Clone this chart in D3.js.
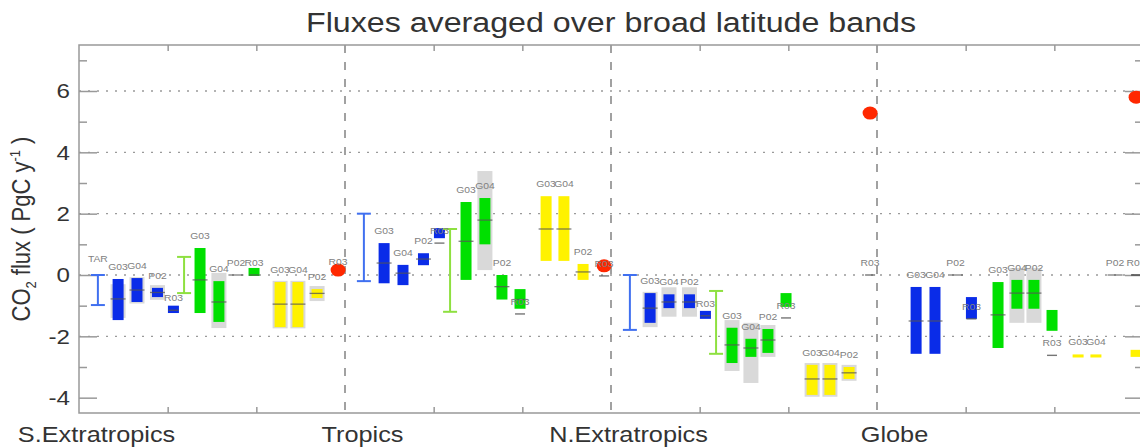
<!DOCTYPE html>
<html><head><meta charset="utf-8">
<script src="https://cdn.jsdelivr.net/npm/d3@7"></script>
<style>
html,body{margin:0;padding:0;background:#fff;}
svg{display:block;font-family:"Liberation Sans",Arial,sans-serif;}
</style>
</head><body>
<svg id="chart" width="1140" height="448"></svg>
<script>
// ---------------- DATA ----------------
const bands = ["S.Extratropics", "Tropics", "N.Extratropics", "Globe"];
const yTickValues = [-4, -2, 0, 2, 4, 6];
const yMinorValues = [-3, -1, 1, 3, 5, 7];
const gridValues = [-2, 0, 2, 4, 6];

// TAR ranges [lo, hi] per band (null = none)
const blueRange = [[-0.98, 0.0], [-0.2, 2.0], [-1.79, 0.0], null];
const greenRange = [[-0.59, 0.59], [-1.2, 1.5], [-2.57, -0.52], null];
const rangeLabels = ["TAR", "", "", ""];

const blueBoxes = [
  {band:"S.Extratropics", model:"G03", lo:-1.47, hi:-0.13, med:-0.78, gLo:-1.40, gHi:-0.30},
  {band:"S.Extratropics", model:"G04", lo:-0.88, hi:-0.10, med:-0.49, gLo:-0.93, gHi:-0.07},
  {band:"S.Extratropics", model:"P02", lo:-0.72, hi:-0.42, med:-0.57, gLo:-0.81, gHi:-0.33},
  {band:"S.Extratropics", model:"R03", lo:-1.24, hi:-1.00, ref:-1.15},
  {band:"Tropics", model:"G03", lo:-0.27, hi:1.04, med:0.39},
  {band:"Tropics", model:"G04", lo:-0.33, hi:0.33, med:0.06},
  {band:"Tropics", model:"P02", lo:0.32, hi:0.71, med:0.52},
  {band:"Tropics", model:"R03", lo:1.20, hi:1.53, ref:1.04},
  {band:"N.Extratropics", model:"G03", lo:-1.56, hi:-0.59, med:-1.08, gLo:-1.70, gHi:-0.55},
  {band:"N.Extratropics", model:"G04", lo:-1.08, hi:-0.63, med:-0.88, gLo:-1.36, gHi:-0.40},
  {band:"N.Extratropics", model:"P02", lo:-1.08, hi:-0.63, med:-0.88, gLo:-1.36, gHi:-0.40},
  {band:"N.Extratropics", model:"R03", lo:-1.43, hi:-1.17, ref:-1.33},
  {band:"Globe", model:"G03", lo:-2.57, hi:-0.39, med:-1.50},
  {band:"Globe", model:"G04", lo:-2.57, hi:-0.39, med:-1.50},
  {band:"Globe", model:"P02", lo:0, hi:0, med:0},
  {band:"Globe", model:"R03", lo:-1.43, hi:-0.72, ref:-1.43}
];

const greenBoxes = [
  {band:"S.Extratropics", model:"G03", lo:-1.24, hi:0.88, med:-0.16},
  {band:"S.Extratropics", model:"G04", lo:-1.53, hi:-0.20, med:-0.88, gLo:-1.73, gHi:0.07},
  {band:"S.Extratropics", model:"P02", lo:0, hi:0, med:0},
  {band:"S.Extratropics", model:"R03", lo:-0.03, hi:0.23, ref:0.0},
  {band:"Tropics", model:"G03", lo:-0.16, hi:2.38, med:1.10},
  {band:"Tropics", model:"G04", lo:1.00, hi:2.51, med:1.79, gLo:0.16, gHi:3.39},
  {band:"Tropics", model:"P02", lo:-0.80, hi:0.00, med:-0.38},
  {band:"Tropics", model:"R03", lo:-1.10, hi:-0.46, med:-0.80, ref:-1.27},
  {band:"N.Extratropics", model:"G03", lo:-2.87, hi:-1.72, med:-2.28, gLo:-3.13, gHi:-1.47},
  {band:"N.Extratropics", model:"G04", lo:-2.67, hi:-2.08, med:-2.38, gLo:-3.52, gHi:-1.56},
  {band:"N.Extratropics", model:"P02", lo:-2.54, hi:-1.76, med:-2.12, gLo:-2.67, gHi:-1.63},
  {band:"N.Extratropics", model:"R03", lo:-1.04, hi:-0.59, ref:-1.40},
  {band:"Globe", model:"G03", lo:-2.38, hi:-0.23, med:-1.30},
  {band:"Globe", model:"G04", lo:-1.10, hi:-0.16, med:-0.59, gLo:-1.56, gHi:0.23},
  {band:"Globe", model:"P02", lo:-1.10, hi:-0.16, med:-0.59, gLo:-1.56, gHi:0.23},
  {band:"Globe", model:"R03", lo:-1.82, hi:-1.14, ref:-2.62}
];

const yellowBoxes = [
  {band:"S.Extratropics", model:"G03", lo:-1.70, hi:-0.23, med:-0.95, gLo:-1.74, gHi:-0.19},
  {band:"S.Extratropics", model:"G04", lo:-1.70, hi:-0.23, med:-0.95, gLo:-1.74, gHi:-0.19},
  {band:"S.Extratropics", model:"P02", lo:-0.75, hi:-0.46, med:-0.60, gLo:-0.85, gHi:-0.36},
  {band:"Tropics", model:"G03", lo:0.46, hi:2.57, med:1.50},
  {band:"Tropics", model:"G04", lo:0.46, hi:2.57, med:1.50},
  {band:"Tropics", model:"P02", lo:-0.16, hi:0.36, med:0.10},
  {band:"N.Extratropics", model:"G03", lo:-3.91, hi:-2.93, med:-3.39, gLo:-3.97, gHi:-2.87},
  {band:"N.Extratropics", model:"G04", lo:-3.91, hi:-2.93, med:-3.39, gLo:-3.97, gHi:-2.87},
  {band:"N.Extratropics", model:"P02", lo:-3.39, hi:-3.00, med:-3.19, gLo:-3.45, gHi:-2.93},
  {band:"Globe", model:"G03", lo:-2.69, hi:-2.59},
  {band:"Globe", model:"G04", lo:-2.69, hi:-2.59},
  {band:"Globe", model:"P02", lo:0, hi:0, med:0},
  {band:"Globe", model:"R03", lo:-2.67, hi:-2.44, ref:0}
];

const redDots = [
  {band:"S.Extratropics", model:"R03", value:0.16, ref:0.02},
  {band:"Tropics", model:"R03", value:0.30, ref:-0.03},
  {band:"N.Extratropics", model:"R03", value:5.28, ref:0},
  {band:"Globe", model:"R03", value:5.80, ref:0}
];

// ---------------- LAYOUT / STYLE ----------------
const colors = {blue:"#0a2ce8", green:"#00e000", yellow:"#fff200", red:"#ff2800",
  blueRange:"#4070f0", greenRange:"#8ee040", grey:"#d9d9d9", median:"#555"};
const slot = {
  blueTAR:0.071, blueG03:0.147, blueG04:0.218, blueP02:0.295, blueR03:0.355,
  greenTAR:0.395, greenG03:0.455, greenG04:0.526, greenP02:0.59, greenR03:0.658,
  yellowG03:0.756, yellowG04:0.823, yellowP02:0.895, yellowR03:0.974, redR03:0.974
};
const SX = 1.15; // horizontal stretch of the reference raster text

const svg = d3.select("#chart");
const L = 79, R = 1143, T = 45, B = 413;

const xBand = d3.scaleBand().domain(bands).range([L, R]).padding(0);
const xLin = d3.scaleLinear().domain([0, bands.length]).range([L, R]);
const y = d3.scaleLinear().domain([-4.5, 7.5]).range([B, T]);
const bw = xBand.bandwidth();
const xPos = (band, key) => xBand(band) + slot[key] * bw;

// title
svg.append("text")
  .attr("transform", `translate(611,32) scale(${SX},1)`)
  .attr("text-anchor", "middle").attr("font-size", 28).attr("fill", "#333")
  .text("Fluxes averaged over broad latitude bands");

// gridlines
svg.append("g").selectAll("line").data(gridValues).join("line")
  .attr("x1", L).attr("x2", R).attr("y1", d => y(d)).attr("y2", d => y(d))
  .attr("stroke", "#9a9a9a").attr("stroke-width", 1.3).attr("stroke-dasharray", "2,7");

// dashed band separators
svg.append("g").selectAll("line").data(bands.slice(1)).join("line")
  .attr("x1", d => xBand(d)).attr("x2", d => xBand(d)).attr("y1", T).attr("y2", B)
  .attr("stroke", "#8a8a8a").attr("stroke-width", 1.6).attr("stroke-dasharray", "8,9");

// axes
function styleAxis(g){
  g.select(".domain").remove();
  g.selectAll(".tick line").attr("stroke", "#999").attr("stroke-width", 1.5);
}
const yAxis = svg.append("g").attr("transform", `translate(${L},0)`)
  .call(d3.axisLeft(y).tickValues(yTickValues).tickSize(-18).tickPadding(9).tickFormat(d => String(d)));
styleAxis(yAxis);
yAxis.selectAll(".tick text").attr("x", null)
  .attr("transform", `translate(-9,0) scale(${SX},1)`)
  .attr("font-size", 21).attr("fill", "#333").attr("font-family", "Liberation Sans, Arial, sans-serif");
svg.append("g").attr("transform", `translate(${L},0)`)
  .call(d3.axisLeft(y).tickValues(yMinorValues).tickSize(-8).tickFormat(""))
  .call(styleAxis);
svg.append("g").attr("transform", `translate(${R},0)`)
  .call(d3.axisRight(y).tickValues(yTickValues).tickSize(-18).tickFormat(""))
  .call(styleAxis);
svg.append("g").attr("transform", `translate(${R},0)`)
  .call(d3.axisRight(y).tickValues(yMinorValues).tickSize(-8).tickFormat(""))
  .call(styleAxis);

const thirdTicks = d3.range(0, bands.length * 3).filter(i => i % 3 !== 0).map(i => i / 3);
svg.append("g").attr("transform", `translate(0,${B})`)
  .call(d3.axisBottom(xLin).tickValues(thirdTicks).tickSize(-6).tickFormat(""))
  .call(styleAxis);
svg.append("g").attr("transform", `translate(0,${T})`)
  .call(d3.axisTop(xLin).tickValues(thirdTicks).tickSize(-6).tickFormat(""))
  .call(styleAxis);

// band labels
const xAxis = svg.append("g").attr("transform", `translate(0,${B})`)
  .call(d3.axisBottom(xLin).tickValues(d3.range(bands.length)).tickSize(0).tickPadding(0)
    .tickFormat(i => bands[i]));
xAxis.select(".domain").remove();
xAxis.selectAll(".tick text").attr("y", null).attr("dy", null)
  .attr("transform", `translate(17,29) scale(${SX},1)`)
  .attr("font-size", 22).attr("fill", "#333").attr("font-family", "Liberation Sans, Arial, sans-serif");

// frame
svg.append("rect").attr("x", L).attr("y", T).attr("width", R - L).attr("height", B - T)
  .attr("fill", "none").attr("stroke", "#999").attr("stroke-width", 1.5);

// y axis title
const yt = svg.append("text")
  .attr("transform", `translate(30,229) scale(${SX},1) rotate(-90)`)
  .attr("text-anchor", "middle").attr("font-size", 22).attr("fill", "#333");
yt.append("tspan").text("CO");
yt.append("tspan").attr("font-size", 13).attr("dy", 5).text("2");
yt.append("tspan").attr("dy", -5).text(" flux ( PgC y");
yt.append("tspan").attr("font-size", 13).attr("dy", -9).text("-1");
yt.append("tspan").attr("dy", 9).text(" )");

// ---------------- MARKS ----------------
const groups = [
  {name:"blue", data:blueBoxes},
  {name:"green", data:greenBoxes},
  {name:"yellow", data:yellowBoxes}
];
const all = [];
groups.forEach(g => g.data.forEach(d => all.push({...d, group:g.name, cx:xPos(d.band, g.name + d.model)})));

const BOXW = 11, GREYW = 15;
const gMarks = svg.append("g");
// grey ranges
gMarks.append("g").selectAll("rect").data(all.filter(d => d.gLo != null)).join("rect")
  .attr("x", d => d.cx - GREYW / 2).attr("width", GREYW)
  .attr("y", d => y(d.gHi)).attr("height", d => y(d.gLo) - y(d.gHi))
  .attr("fill", colors.grey);
// coloured boxes
gMarks.append("g").selectAll("rect").data(all).join("rect")
  .attr("x", d => d.cx - BOXW / 2).attr("width", BOXW)
  .attr("y", d => y(d.hi)).attr("height", d => y(d.lo) - y(d.hi))
  .attr("fill", d => colors[d.group]);
// medians
gMarks.append("g").selectAll("line").data(all.filter(d => d.med != null)).join("line")
  .attr("x1", d => d.cx - GREYW / 2).attr("x2", d => d.cx + GREYW / 2)
  .attr("y1", d => y(d.med)).attr("y2", d => y(d.med))
  .attr("stroke", colors.median).attr("stroke-width", 1.3).attr("opacity", 0.75);
// reference dashes
const refs = all.filter(d => d.ref != null).map(d => ({cx:d.cx, v:d.ref}))
  .concat(redDots.map(d => ({cx:xPos(d.band, "redR03"), v:d.ref})));
gMarks.append("g").selectAll("line").data(refs).join("line")
  .attr("x1", d => d.cx - 5).attr("x2", d => d.cx + 5)
  .attr("y1", d => y(d.v)).attr("y2", d => y(d.v))
  .attr("stroke", "#555").attr("stroke-width", 1.4).attr("opacity", 0.8);

// TAR range error bars
function rangeBars(data, key, color){
  const rows = data.map((r, i) => r ? {band:bands[i], lo:r[0], hi:r[1], label:rangeLabels[i], cx:xPos(bands[i], key)} : null).filter(Boolean);
  const g = gMarks.append("g").attr("stroke", color).attr("stroke-width", 2);
  g.selectAll(".v").data(rows).join("line")
    .attr("x1", d => d.cx).attr("x2", d => d.cx).attr("y1", d => y(d.hi)).attr("y2", d => y(d.lo));
  g.selectAll(".t").data(rows).join("line")
    .attr("x1", d => d.cx - 7).attr("x2", d => d.cx + 7).attr("y1", d => y(d.hi)).attr("y2", d => y(d.hi));
  g.selectAll(".b").data(rows).join("line")
    .attr("x1", d => d.cx - 7).attr("x2", d => d.cx + 7).attr("y1", d => y(d.lo)).attr("y2", d => y(d.lo));
  return rows;
}
const blueRows = rangeBars(blueRange, "blueTAR", colors.blueRange);
rangeBars(greenRange, "greenTAR", colors.greenRange);

// red dots
gMarks.append("g").selectAll("ellipse").data(redDots).join("ellipse")
  .attr("cx", d => xPos(d.band, "redR03")).attr("cy", d => y(d.value))
  .attr("rx", 7.5).attr("ry", 6.5).attr("fill", colors.red);

// labels
const labels = [];
const seen = new Set();
all.forEach(d => {
  const anchor = d.ref != null ? d.ref : d.hi;
  const k = d.band + "|" + d.model + "|" + Math.round(d.cx) + "|" + anchor;
  if (d.group === "yellow" && d.model === "R03") return; // labelled by red dot
  labels.push({x:d.cx, v:anchor, text:d.model});
});
redDots.forEach(d => labels.push({x:xPos(d.band, "redR03"), v:d.ref, text:d.model}));
blueRows.filter(d => d.label).forEach(d => labels.push({x:d.cx, v:d.hi, text:d.label, up:4}));
svg.append("g").selectAll("text").data(labels).join("text")
  .attr("transform", d => `translate(${d.x},${y(d.v) - 9 - (d.up || 0)}) scale(${SX},1)`)
  .attr("text-anchor", "middle").attr("font-size", 9).attr("fill", "#808080")
  .text(d => d.text);
</script>
</body></html>
